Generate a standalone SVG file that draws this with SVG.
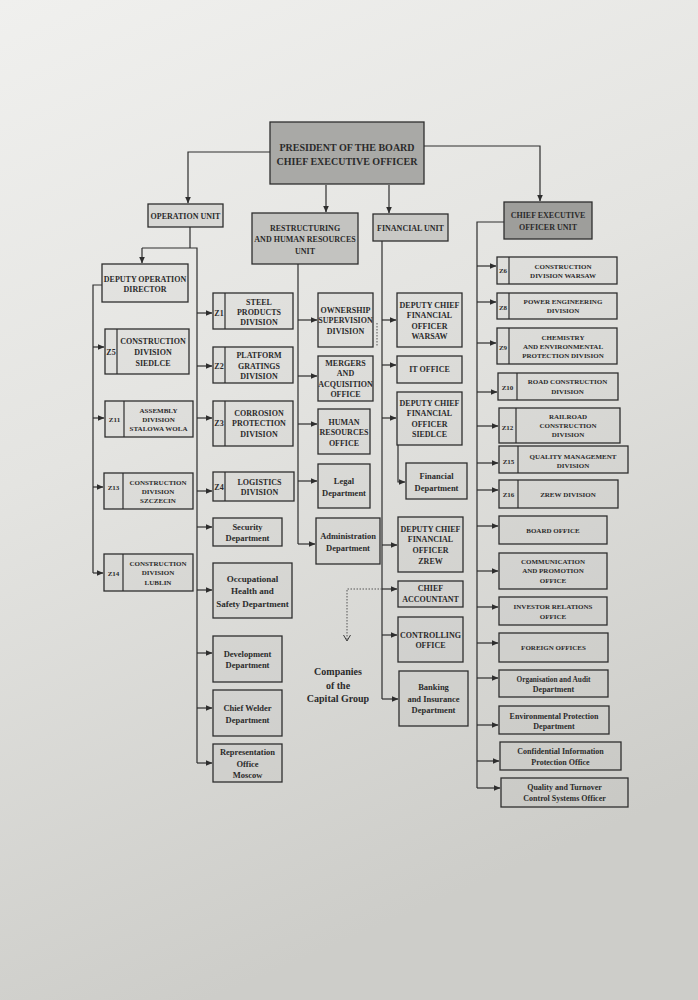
<svg xmlns="http://www.w3.org/2000/svg" width="698" height="1000" viewBox="0 0 698 1000">
<defs>
<linearGradient id="bg" x1="0" y1="0" x2="0.3" y2="1">
<stop offset="0" stop-color="#f0f0ee"/>
<stop offset="0.45" stop-color="#e4e4e1"/>
<stop offset="1" stop-color="#cdcdc9"/>
</linearGradient>
<marker id="a" markerWidth="7" markerHeight="6" refX="6.5" refY="3" orient="auto" markerUnits="userSpaceOnUse"><path d="M0,0 L7,3 L0,6 z" fill="#2e2e2e"/></marker>
<marker id="v" markerWidth="8" markerHeight="8" refX="7" refY="4" orient="auto" markerUnits="userSpaceOnUse"><path d="M1,0.5 L7,4 L1,7.5" fill="none" stroke="#3a3a3a" stroke-width="1"/></marker>
<style>
.b{fill:#000;fill-opacity:0.025;stroke:#2e2e2e;stroke-width:1.3}
.d{stroke:#2e2e2e;stroke-width:1.2}
.t{font-family:"Liberation Serif","Times New Roman",serif;font-weight:bold;fill:#2b2b2b;text-anchor:middle;font-size:8px}
.s7{font-size:7px}
.s85{font-size:8.5px}
.c{fill:none;stroke:#2e2e2e;stroke-width:1.2}
.dot{fill:none;stroke:#555;stroke-width:1;stroke-dasharray:1.5 1.5}
</style>
</defs>
<rect x="0" y="0" width="698" height="1000" fill="url(#bg)"/>

<g id="connectors">
<path class="c" d="M270,152 H188 V203" marker-end="url(#a)"/>
<path class="c" d="M326,185 V212" marker-end="url(#a)"/>
<path class="c" d="M389,185 V213" marker-end="url(#a)"/>
<path class="c" d="M424,146 H540 V201" marker-end="url(#a)"/>
<!-- operation unit -->
<path class="c" d="M190,227 V248 M142,248 H197 V763"/>
<path class="c" d="M142,248 V263" marker-end="url(#a)"/>
<path class="c" d="M102,285 H93 V573"/>
<path class="c" d="M93,347 H104" marker-end="url(#a)"/>
<path class="c" d="M93,418 H104" marker-end="url(#a)"/>
<path class="c" d="M93,487 H103" marker-end="url(#a)"/>
<path class="c" d="M93,573 H103" marker-end="url(#a)"/>
<path class="c" d="M197,313 H212" marker-end="url(#a)"/>
<path class="c" d="M197,366 H212" marker-end="url(#a)"/>
<path class="c" d="M197,418 H212" marker-end="url(#a)"/>
<path class="c" d="M197,491 H212" marker-end="url(#a)"/>
<path class="c" d="M197,527 H212" marker-end="url(#a)"/>
<path class="c" d="M197,590 H212" marker-end="url(#a)"/>
<path class="c" d="M197,653 H212" marker-end="url(#a)"/>
<path class="c" d="M197,708 H212" marker-end="url(#a)"/>
<path class="c" d="M197,763 H212" marker-end="url(#a)"/>
<!-- restructuring -->
<path class="c" d="M298,264 V544"/>
<path class="c" d="M298,320 H317" marker-end="url(#a)"/>
<path class="c" d="M298,376 H317" marker-end="url(#a)"/>
<path class="c" d="M298,424 H317" marker-end="url(#a)"/>
<path class="c" d="M298,481 H317" marker-end="url(#a)"/>
<path class="c" d="M298,544 H315" marker-end="url(#a)"/>
<!-- financial -->
<path class="c" d="M382,241 V699"/>
<path class="c" d="M382,320 H396" marker-end="url(#a)"/>
<path class="c" d="M382,365 H396" marker-end="url(#a)"/>
<path class="c" d="M382,418 H396" marker-end="url(#a)"/>
<path class="c" d="M382,545 H397" marker-end="url(#a)"/>
<path class="c" d="M382,589 H397" marker-end="url(#a)"/>
<path class="c" d="M382,635 H397" marker-end="url(#a)"/>
<path class="c" d="M382,699 H398" marker-end="url(#a)"/>
<path class="c" d="M398,445 V482 H405" marker-end="url(#a)"/>
<path class="dot" d="M382,589 H347 V641" marker-end="url(#v)"/>
<path class="dot" d="M377,323 V347"/>
<!-- CEO unit -->
<path class="c" d="M504,222 H477 V788"/>
<path class="c" d="M477,266 H496" marker-end="url(#a)"/>
<path class="c" d="M477,302 H496" marker-end="url(#a)"/>
<path class="c" d="M477,343 H496" marker-end="url(#a)"/>
<path class="c" d="M477,392 H497" marker-end="url(#a)"/>
<path class="c" d="M477,426 H498" marker-end="url(#a)"/>
<path class="c" d="M477,463 H498" marker-end="url(#a)"/>
<path class="c" d="M477,490 H498" marker-end="url(#a)"/>
<path class="c" d="M477,526 H498" marker-end="url(#a)"/>
<path class="c" d="M477,571 H498" marker-end="url(#a)"/>
<path class="c" d="M477,607 H498" marker-end="url(#a)"/>
<path class="c" d="M477,643 H498" marker-end="url(#a)"/>
<path class="c" d="M477,678 H498" marker-end="url(#a)"/>
<path class="c" d="M477,725 H498" marker-end="url(#a)"/>
<path class="c" d="M477,761 H499" marker-end="url(#a)"/>
<path class="c" d="M477,788 H500" marker-end="url(#a)"/>
</g>

<g id="president"><rect class="b" x="270" y="122" width="154" height="62" style="fill:#a9a9a6;fill-opacity:1"/>
<text class="t" x="347" y="151" font-size="10" style="font-size:10px">PRESIDENT OF THE BOARD</text>
<text class="t" x="347" y="165" style="font-size:10px">CHIEF EXECUTIVE OFFICER</text></g>

<g id="operation-unit"><rect class="b" x="148" y="204" width="75" height="23" style="fill:#d8d8d5;fill-opacity:1"/>
<text class="t" x="185.5" y="219">OPERATION UNIT</text></g>

<g id="restructuring-unit"><rect class="b" x="252" y="213" width="106" height="51" style="fill:#c3c3c0;fill-opacity:1"/>
<text class="t" x="305" y="231">RESTRUCTURING</text>
<text class="t" x="305" y="242">AND HUMAN RESOURCES</text>
<text class="t" x="305" y="254">UNIT</text></g>

<g id="financial-unit"><rect class="b" x="373" y="214" width="75" height="27" style="fill:#c9c9c6;fill-opacity:1"/>
<text class="t" x="410.5" y="230.5">FINANCIAL UNIT</text></g>

<g id="ceo-unit"><rect class="b" x="504" y="202" width="88" height="37" style="fill:#9e9e9b;fill-opacity:1"/>
<text class="t" x="548" y="218">CHIEF EXECUTIVE</text>
<text class="t" x="548" y="229.5">OFFICER UNIT</text></g>

<!-- Operation unit left column -->
<g id="deputy-operation-director"><rect class="b" x="102" y="264" width="86" height="38"/>
<text class="t" x="145" y="281.5">DEPUTY OPERATION</text>
<text class="t" x="145" y="292">DIRECTOR</text></g>

<g id="z5"><rect class="b" x="105" y="329" width="84" height="45"/><line class="d" x1="117" y1="329" x2="117" y2="374"/>
<text class="t" x="111" y="355">Z5</text>
<text class="t" x="153" y="344">CONSTRUCTION</text>
<text class="t" x="153" y="355">DIVISION</text>
<text class="t" x="153" y="366">SIEDLCE</text></g>

<g id="z11"><rect class="b" x="105" y="401" width="88" height="36"/><line class="d" x1="124" y1="401" x2="124" y2="437"/>
<text class="t s7" x="114.5" y="421.5">Z11</text>
<text class="t s7" x="158.5" y="412.5">ASSEMBLY</text>
<text class="t s7" x="158.5" y="421.5">DIVISION</text>
<text class="t s7" x="158.5" y="430.5">STALOWA WOLA</text></g>

<g id="z13"><rect class="b" x="104" y="473" width="89" height="36"/><line class="d" x1="123" y1="473" x2="123" y2="509"/>
<text class="t s7" x="113.5" y="490">Z13</text>
<text class="t s7" x="158" y="485">CONSTRUCTION</text>
<text class="t s7" x="158" y="494">DIVISION</text>
<text class="t s7" x="158" y="503">SZCZECIN</text></g>

<g id="z14"><rect class="b" x="104" y="554" width="89" height="37"/><line class="d" x1="123" y1="554" x2="123" y2="591"/>
<text class="t s7" x="113.5" y="575.5">Z14</text>
<text class="t s7" x="158" y="565.5">CONSTRUCTION</text>
<text class="t s7" x="158" y="575">DIVISION</text>
<text class="t s7" x="158" y="584.5">LUBLIN</text></g>

<!-- Operation unit middle column -->
<g id="z1"><rect class="b" x="213" y="293" width="80" height="36"/><line class="d" x1="225" y1="293" x2="225" y2="329"/>
<text class="t" x="219" y="316">Z1</text>
<text class="t" x="259" y="305">STEEL</text>
<text class="t" x="259" y="315">PRODUCTS</text>
<text class="t" x="259" y="325">DIVISION</text></g>

<g id="z2"><rect class="b" x="213" y="347" width="80" height="36"/><line class="d" x1="225" y1="347" x2="225" y2="383"/>
<text class="t" x="219" y="369">Z2</text>
<text class="t" x="259" y="358">PLATFORM</text>
<text class="t" x="259" y="368.5">GRATINGS</text>
<text class="t" x="259" y="379">DIVISION</text></g>

<g id="z3"><rect class="b" x="213" y="401" width="80" height="45"/><line class="d" x1="225" y1="401" x2="225" y2="446"/>
<text class="t" x="219" y="426">Z3</text>
<text class="t" x="259" y="416">CORROSION</text>
<text class="t" x="259" y="426">PROTECTION</text>
<text class="t" x="259" y="436.5">DIVISION</text></g>

<g id="z4"><rect class="b" x="213" y="472" width="81" height="29"/><line class="d" x1="225" y1="472" x2="225" y2="501"/>
<text class="t" x="219" y="490">Z4</text>
<text class="t" x="259.5" y="484.5">LOGISTICS</text>
<text class="t" x="259.5" y="494.5">DIVISION</text></g>

<g id="security"><rect class="b" x="213" y="518" width="69" height="28"/>
<text class="t s85" x="247.5" y="529.5">Security</text>
<text class="t s85" x="247.5" y="541">Department</text></g>

<g id="ohs"><rect class="b" x="213" y="563" width="79" height="55"/>
<text class="t" x="252.5" y="582" style="font-size:9px">Occupational</text>
<text class="t" x="252.5" y="594" style="font-size:9px">Health  and</text>
<text class="t" x="252.5" y="606.5" style="font-size:9px">Safety Department</text></g>

<g id="development"><rect class="b" x="213" y="636" width="69" height="46"/>
<text class="t s85" x="247.5" y="656.5">Development</text>
<text class="t s85" x="247.5" y="668">Department</text></g>

<g id="chief-welder"><rect class="b" x="213" y="690" width="69" height="46"/>
<text class="t s85" x="247.5" y="711">Chief Welder</text>
<text class="t s85" x="247.5" y="722.5">Department</text></g>

<g id="representation"><rect class="b" x="213" y="744" width="69" height="38"/>
<text class="t s85" x="247.5" y="755">Representation</text>
<text class="t s85" x="247.5" y="766.5">Office</text>
<text class="t s85" x="247.5" y="778">Moscow</text></g>

<!-- Restructuring column -->
<g id="ownership"><rect class="b" x="318" y="293" width="55" height="54"/>
<text class="t" x="345.5" y="313">OWNERSHIP</text>
<text class="t" x="345.5" y="323">SUPERVISION</text>
<text class="t" x="345.5" y="333.5">DIVISION</text></g>

<g id="mergers"><rect class="b" x="318" y="356" width="55" height="45"/>
<text class="t" x="345.5" y="365.5">MERGERS</text>
<text class="t" x="345.5" y="376">AND</text>
<text class="t" x="345.5" y="386.5">ACQUISITION</text>
<text class="t" x="345.5" y="397">OFFICE</text></g>

<g id="human-resources"><rect class="b" x="318" y="409" width="52" height="45"/>
<text class="t" x="344" y="424.5">HUMAN</text>
<text class="t" x="344" y="435">RESOURCES</text>
<text class="t" x="344" y="445.5">OFFICE</text></g>

<g id="legal"><rect class="b" x="318" y="464" width="52" height="44"/>
<text class="t s85" x="344" y="484">Legal</text>
<text class="t s85" x="344" y="495.5">Department</text></g>

<g id="administration"><rect class="b" x="316" y="518" width="64" height="46"/>
<text class="t s85" x="348" y="539">Administration</text>
<text class="t s85" x="348" y="550.5">Department</text></g>

<!-- Financial column -->
<g id="dcfo-warsaw"><rect class="b" x="397" y="293" width="65" height="54"/>
<text class="t" x="429.5" y="308">DEPUTY CHIEF</text>
<text class="t" x="429.5" y="318">FINANCIAL</text>
<text class="t" x="429.5" y="328.5">OFFICER</text>
<text class="t" x="429.5" y="338.5">WARSAW</text></g>

<g id="it-office"><rect class="b" x="397" y="356" width="65" height="27"/>
<text class="t" x="429.5" y="372">IT OFFICE</text></g>

<g id="dcfo-siedlce"><rect class="b" x="397" y="392" width="65" height="53"/>
<text class="t" x="429.5" y="406">DEPUTY CHIEF</text>
<text class="t" x="429.5" y="416">FINANCIAL</text>
<text class="t" x="429.5" y="427">OFFICER</text>
<text class="t" x="429.5" y="437">SIEDLCE</text></g>

<g id="financial-department"><rect class="b" x="406" y="463" width="61" height="36"/>
<text class="t s85" x="436.5" y="479">Financial</text>
<text class="t s85" x="436.5" y="490.5">Department</text></g>

<g id="dcfo-zrew"><rect class="b" x="398" y="517" width="65" height="55"/>
<text class="t" x="430.5" y="532">DEPUTY CHIEF</text>
<text class="t" x="430.5" y="542">FINANCIAL</text>
<text class="t" x="430.5" y="553">OFFICER</text>
<text class="t" x="430.5" y="563.5">ZREW</text></g>

<g id="chief-accountant"><rect class="b" x="398" y="581" width="65" height="26"/>
<text class="t" x="430.5" y="591">CHIEF</text>
<text class="t" x="430.5" y="602">ACCOUNTANT</text></g>

<g id="controlling"><rect class="b" x="398" y="617" width="65" height="45"/>
<text class="t" x="430.5" y="638">CONTROLLING</text>
<text class="t" x="430.5" y="648">OFFICE</text></g>

<g id="banking"><rect class="b" x="399" y="671" width="69" height="55"/>
<text class="t s85" x="433.5" y="689.5">Banking</text>
<text class="t s85" x="433.5" y="702">and Insurance</text>
<text class="t s85" x="433.5" y="713">Department</text></g>

<g id="companies">
<text class="t" x="338" y="675" style="font-size:10px">Companies</text>
<text class="t" x="338" y="689" style="font-size:10px">of the</text>
<text class="t" x="338" y="702" style="font-size:10px">Capital Group</text></g>

<!-- CEO unit column -->
<g id="z6"><rect class="b" x="497" y="257" width="120" height="27"/><line class="d" x1="509" y1="257" x2="509" y2="284"/>
<text class="t s7" x="503" y="273">Z6</text>
<text class="t s7" x="563" y="268.5">CONSTRUCTION</text>
<text class="t s7" x="563" y="277.5">DIVISION WARSAW</text></g>

<g id="z8"><rect class="b" x="497" y="293" width="120" height="26"/><line class="d" x1="509" y1="293" x2="509" y2="319"/>
<text class="t s7" x="503" y="309.5">Z8</text>
<text class="t s7" x="563" y="304">POWER ENGINEERING</text>
<text class="t s7" x="563" y="313">DIVISION</text></g>

<g id="z9"><rect class="b" x="497" y="328" width="120" height="36"/><line class="d" x1="509" y1="328" x2="509" y2="364"/>
<text class="t s7" x="503" y="349.5">Z9</text>
<text class="t s7" x="563" y="340">CHEMISTRY</text>
<text class="t s7" x="563" y="349">AND ENVIRONMENTAL</text>
<text class="t s7" x="563" y="358">PROTECTION DIVISION</text></g>

<g id="z10"><rect class="b" x="498" y="373" width="120" height="27"/><line class="d" x1="517" y1="373" x2="517" y2="400"/>
<text class="t s7" x="507.5" y="389.5">Z10</text>
<text class="t s7" x="567.5" y="384">ROAD CONSTRUCTION</text>
<text class="t s7" x="567.5" y="393.5">DIVISION</text></g>

<g id="z12"><rect class="b" x="499" y="408" width="121" height="35"/><line class="d" x1="516" y1="408" x2="516" y2="443"/>
<text class="t s7" x="507.5" y="429.5">Z12</text>
<text class="t s7" x="568" y="418.5">RAILROAD</text>
<text class="t s7" x="568" y="428">CONSTRUCTION</text>
<text class="t s7" x="568" y="437">DIVISION</text></g>

<g id="z15"><rect class="b" x="499" y="446" width="129" height="27"/><line class="d" x1="518" y1="446" x2="518" y2="473"/>
<text class="t s7" x="508.5" y="463.5">Z15</text>
<text class="t s7" x="573" y="458.5">QUALITY MANAGEMENT</text>
<text class="t s7" x="573" y="467.5">DIVISION</text></g>

<g id="z16"><rect class="b" x="499" y="480" width="119" height="28"/><line class="d" x1="518" y1="480" x2="518" y2="508"/>
<text class="t s7" x="508.5" y="497">Z16</text>
<text class="t s7" x="568" y="496.5">ZREW DIVISION</text></g>

<g id="board-office"><rect class="b" x="499" y="516" width="108" height="28"/>
<text class="t s7" x="553" y="532.5">BOARD OFFICE</text></g>

<g id="communication"><rect class="b" x="499" y="553" width="108" height="36"/>
<text class="t s7" x="553" y="564">COMMUNICATION</text>
<text class="t s7" x="553" y="573">AND PROMOTION</text>
<text class="t s7" x="553" y="582.5">OFFICE</text></g>

<g id="investor-relations"><rect class="b" x="499" y="597" width="108" height="28"/>
<text class="t s7" x="553" y="609">INVESTOR RELATIONS</text>
<text class="t s7" x="553" y="618.5">OFFICE</text></g>

<g id="foreign-offices"><rect class="b" x="499" y="633" width="109" height="29"/>
<text class="t s7" x="553.5" y="650">FOREIGN OFFICES</text></g>

<g id="organisation-audit"><rect class="b" x="499" y="670" width="109" height="27"/>
<text class="t" x="553.5" y="682" style="font-size:7.3px">Organisation and Audit</text>
<text class="t" x="553.5" y="692">Department</text></g>

<g id="environmental"><rect class="b" x="499" y="706" width="110" height="28"/>
<text class="t" x="554" y="718.5">Environmental Protection</text>
<text class="t" x="554" y="728.5">Department</text></g>

<g id="confidential"><rect class="b" x="500" y="742" width="121" height="28"/>
<text class="t" x="560.5" y="754">Confidential Information</text>
<text class="t" x="560.5" y="764.5">Protection Office</text></g>

<g id="quality-turnover"><rect class="b" x="501" y="778" width="127" height="29"/>
<text class="t" x="564.5" y="789.5">Quality and Turnover</text>
<text class="t" x="564.5" y="800.5">Control Systems Officer</text></g>
</svg>
